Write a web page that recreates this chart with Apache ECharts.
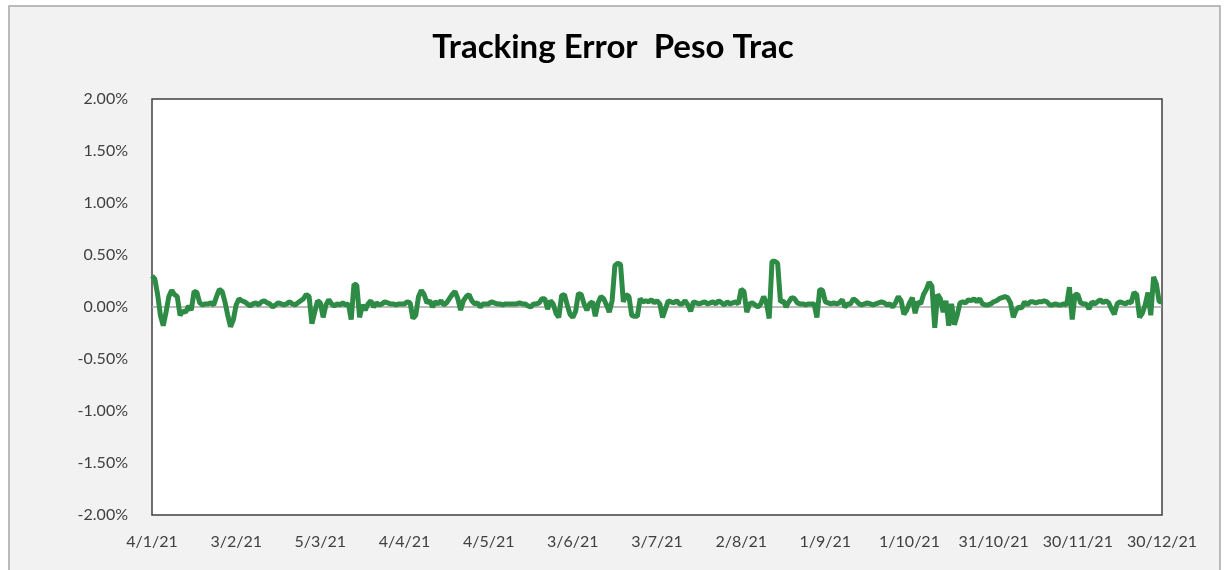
<!DOCTYPE html>
<html>
<head>
<meta charset="utf-8">
<script src="https://cdn.jsdelivr.net/npm/echarts@6/dist/echarts.min.js"></script>
<style>
html,body{margin:0;padding:0;background:#ffffff;}
#chart{width:1226px;height:570px;}
</style>
</head>
<body>
<div id="chart"></div>
<script>
// Chart title
const chartTitle = 'Tracking Error  Peso Trac';

// Daily observations starting 4/1/21 (day index 0) through 30/12/21 (day index 360)
const startDate = '2021-01-04';

// X-axis tick labels, one every 30 days
const xTickLabels = ['4/1/21','3/2/21','5/3/21','4/4/21','4/5/21','3/6/21','3/7/21',
  '2/8/21','1/9/21','1/10/21','31/10/21','30/11/21','30/12/21'];

// Y-axis range (percent)
const yMin = -2, yMax = 2, yStep = 0.5;

// Tracking error values (in %), one per calendar day
const teValues = [
  0.30, 0.27, 0.12, -0.08, -0.18, -0.05, 0.10, 0.16, 0.12, 0.10,
  -0.08, -0.04, -0.05, 0.01, -0.03, 0.15, 0.14, 0.04, 0.02, 0.03,
  0.03, 0.04, 0.02, 0.10, 0.17, 0.15, 0.05, -0.08, -0.19, -0.12,
  0.02, 0.08, 0.06, 0.05, 0.03, 0.01, 0.03, 0.04, 0.02, 0.05,
  0.06, 0.04, 0.03, 0.00, 0.02, 0.04, 0.03, 0.02, 0.03, 0.05,
  0.03, 0.02, 0.04, 0.06, 0.08, 0.12, 0.10, -0.16, -0.05, 0.06,
  0.04, -0.10, 0.02, 0.07, 0.03, 0.01, 0.03, 0.02, 0.04, 0.02,
  0.03, -0.12, 0.22, 0.21, -0.10, 0.02, -0.03, 0.03, 0.06, 0.00,
  0.04, 0.02, 0.03, 0.05, 0.04, 0.03, 0.03, 0.02, 0.03, 0.03,
  0.03, 0.05, 0.04, -0.11, -0.08, 0.10, 0.16, 0.12, 0.04, 0.06,
  0.00, 0.05, 0.03, 0.06, 0.02, 0.04, 0.08, 0.12, 0.15, 0.08,
  -0.03, 0.06, 0.10, 0.12, 0.06, 0.03, 0.04, 0.00, 0.03, 0.03,
  0.03, 0.05, 0.04, 0.03, 0.03, 0.02, 0.03, 0.03, 0.03, 0.03,
  0.03, 0.04, 0.03, 0.03, 0.01, 0.00, 0.03, 0.03, 0.04, 0.08,
  0.08, -0.02, 0.06, 0.03, -0.06, -0.10, 0.11, 0.12, 0.02, -0.07,
  -0.10, -0.04, 0.13, 0.12, 0.03, -0.03, 0.03, 0.05, -0.09, 0.04,
  0.10, 0.08, 0.02, -0.05, 0.06, 0.40, 0.42, 0.41, 0.05, 0.12,
  0.10, -0.08, -0.09, -0.09, 0.08, 0.05, 0.06, 0.05, 0.07, 0.04,
  0.06, 0.03, -0.10, -0.02, 0.06, 0.05, 0.04, 0.06, 0.03, 0.03,
  0.06, 0.02, -0.04, 0.05, 0.04, 0.03, 0.04, 0.05, 0.03, 0.04,
  0.05, 0.03, 0.06, 0.04, 0.02, 0.05, 0.03, 0.04, 0.05, 0.03,
  0.17, 0.15, -0.05, 0.03, 0.04, 0.02, 0.00, 0.03, 0.10, 0.04,
  -0.11, 0.44, 0.44, 0.42, 0.05, 0.06, 0.00, 0.05, 0.09, 0.08,
  0.04, 0.03, 0.03, 0.02, 0.03, 0.03, 0.03, -0.10, 0.17, 0.16,
  0.05, 0.04, 0.03, 0.04, 0.03, 0.04, 0.07, 0.00, 0.03, 0.03,
  0.08, 0.06, 0.03, 0.02, 0.03, 0.04, 0.03, 0.02, 0.03, 0.04,
  0.05, 0.04, 0.02, 0.03, 0.00, 0.04, 0.10, 0.06, -0.07, -0.03,
  0.04, 0.09, -0.06, 0.05, 0.03, 0.12, 0.17, 0.24, 0.20, -0.20,
  0.12, 0.08, -0.05, 0.06, -0.18, 0.03, -0.17, -0.08, 0.04, 0.05,
  0.04, 0.07, 0.06, 0.08, 0.05, 0.08, 0.03, 0.02, 0.02, 0.03,
  0.05, 0.06, 0.08, 0.09, 0.10, 0.09, 0.04, -0.10, -0.03, 0.00,
  -0.01, 0.05, 0.02, 0.05, 0.05, 0.04, 0.05, 0.05, 0.06, 0.05,
  0.02, 0.02, 0.03, 0.02, 0.02, 0.03, 0.02, 0.19, -0.12, 0.12,
  0.12, 0.04, 0.03, 0.03, -0.02, 0.05, 0.03, 0.05, 0.07, 0.04,
  0.06, 0.04, -0.02, -0.07, 0.03, 0.05, 0.04, 0.03, 0.05, 0.04,
  0.14, 0.12, -0.10, -0.06, 0.02, 0.14, -0.08, 0.29, 0.22, 0.05,
  0.05
];

const dayCount = (xTickLabels.length - 1) * 30;
const seriesData = teValues.map((v, i) => [i, v]);

const chart = echarts.init(document.getElementById('chart'), null, {renderer: 'canvas'});
chart.setOption({
  backgroundColor: '#ffffff',
  animation: false,
  graphic: [{
    type: 'rect',
    z: -10,
    silent: true,
    shape: {x: 9, y: 6, width: 1211, height: 600},
    style: {fill: '#f2f2f2', stroke: '#a6a6a6', lineWidth: 1.5}
  }],
  title: {
    text: chartTitle,
    left: 'center',
    top: 26,
    textStyle: {fontFamily: 'Lato', fontWeight: 'bold', fontSize: 33, color: '#000000'}
  },
  grid: {
    left: 152, top: 99, width: 1010, height: 416,
    show: true, backgroundColor: '#ffffff', borderColor: '#404040', borderWidth: 1.5,
    containLabel: false
  },
  xAxis: {
    type: 'value',
    min: 0, max: dayCount, interval: 30,
    axisLine: {show: false, onZero: false},
    axisTick: {show: false},
    splitLine: {show: false},
    axisLabel: {
      margin: 19,
      color: '#404040',
      fontFamily: 'Lato',
      fontSize: 16,
      showMinLabel: true, showMaxLabel: true,
      formatter: v => xTickLabels[Math.round(v / 30)] || ''
    }
  },
  yAxis: {
    type: 'value',
    min: yMin, max: yMax, interval: yStep,
    axisLine: {show: false},
    axisTick: {show: false},
    splitLine: {show: false},
    axisLabel: {
      margin: 24,
      color: '#404040',
      fontFamily: 'Lato',
      fontSize: 16,
      formatter: v => v.toFixed(2) + '%'
    }
  },
  series: [
    {
      type: 'line',
      data: [[0, 0], [dayCount, 0]],
      symbol: 'none',
      silent: true,
      z: 1,
      lineStyle: {color: '#a6a6a6', width: 1.5}
    },
    {
      type: 'line',
      data: seriesData,
      symbol: 'none',
      z: 2,
      lineStyle: {color: '#2e8b45', width: 5, join: 'bevel'}
    }
  ]
});
</script>
</body>
</html>
